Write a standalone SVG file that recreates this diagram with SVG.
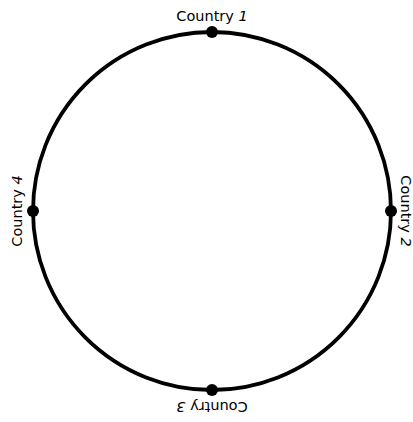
<svg xmlns="http://www.w3.org/2000/svg" width="413" height="422" viewBox="0 0 413 422">
<style>
.lbl{font-family:"DejaVu Sans",sans-serif;font-size:14.5px;fill:#000;text-anchor:middle}
.num{font-style:italic}
.dot{fill:#000}
</style>
<rect width="413" height="422" fill="#fff"/>
<g id="connectors">
<circle cx="212" cy="211" r="179" fill="none" stroke="#000" stroke-width="3.8"/>
</g>
<g id="country1">
<circle class="dot" cx="212" cy="32" r="6"/>
<text class="lbl" x="212" y="21">Country <tspan class="num">1</tspan></text>
</g>
<g id="country2">
<circle class="dot" cx="391" cy="211" r="6"/>
<text class="lbl" transform="translate(401,211) rotate(90)">Country <tspan class="num">2</tspan></text>
</g>
<g id="country3">
<circle class="dot" cx="212" cy="390" r="6"/>
<text class="lbl" transform="translate(212,402) rotate(180)">Country <tspan class="num">3</tspan></text>
</g>
<g id="country4">
<circle class="dot" cx="33" cy="211" r="6"/>
<text class="lbl" transform="translate(22,211) rotate(-90)">Country <tspan class="num">4</tspan></text>
</g>
</svg>
